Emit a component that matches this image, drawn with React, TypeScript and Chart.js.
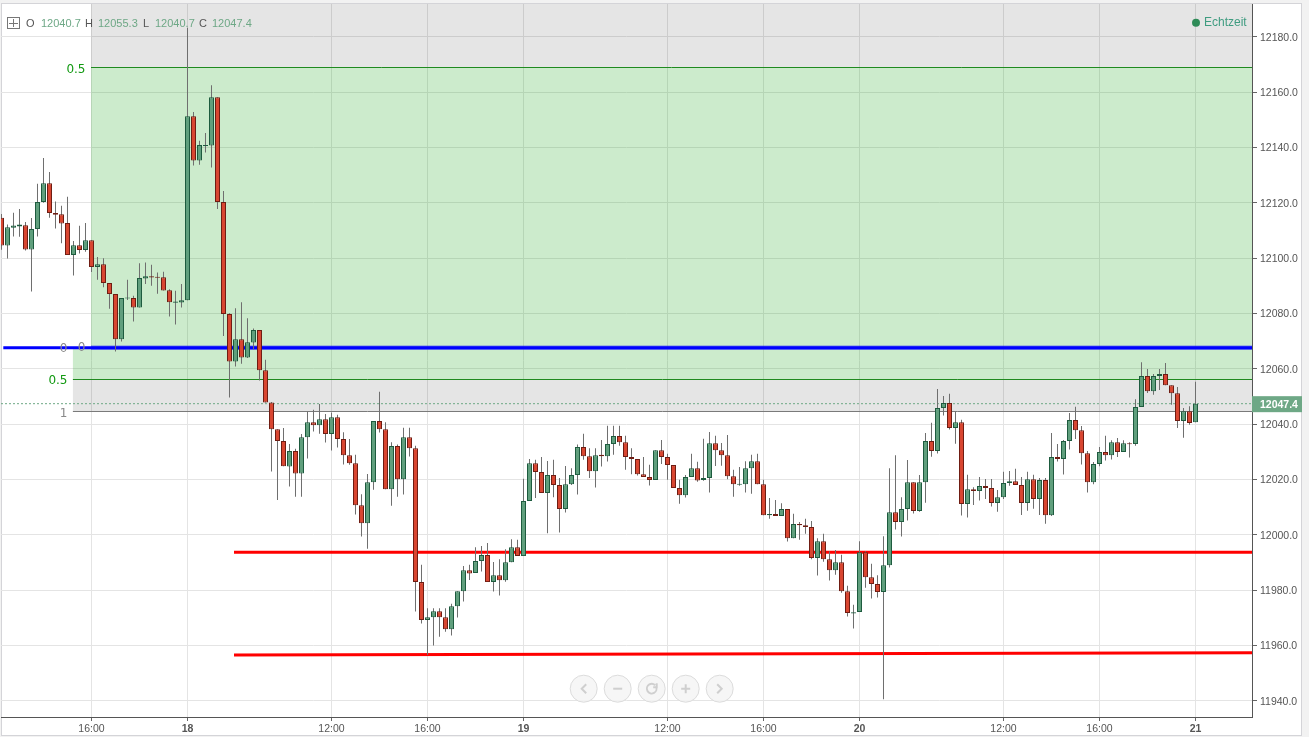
import React, { useEffect, useRef } from "react";
import { Chart, registerables } from "chart.js";

Chart.register(...registerables);

const opens = [
12114.6,12104.6,12111.0,12111.4,12111.9,12103.1,12110.5,12120.3,12127.1,12116.3,
12115.9,12112.7,12101.1,12104.7,12102.9,12106.5,12096.8,12097.8,12091.0,12087.0,
12070.7,12085.4,12085.6,12082.2,12092.6,12093.5,12093.3,12093.1,12088.4,12083.9,
12084.0,12084.8,12151.3,12135.3,12140.5,12140.7,12158.2,12120.3,12079.8,12062.6,
12070.7,12064.1,12069.5,12074.0,12059.5,12047.8,12038.2,12033.9,12024.7,12030.3,
12022.2,12035.3,12040.7,12039.6,12041.8,12036.4,12042.5,12034.6,12028.8,12025.9,
12010.7,12004.2,12019.0,12041.1,12038.2,12016.5,12032.1,12020.1,12035.3,12031.3,
11982.9,11969.2,11970.2,11972.4,11970.2,11965.9,11974.2,11979.6,11987.2,11986.2,
11990.5,11992.7,11982.9,11985.4,11983.6,11990.1,11995.5,11992.3,12012.2,12025.9,
12022.7,12015.1,12021.6,12018.0,12009.3,12018.3,12021.6,12031.7,12028.4,12023.0,
12028.9,12028.4,12032.8,12035.7,12033.5,12028.1,12027.4,12021.9,12020.9,12019.8,
12030.6,12028.1,12025.2,12016.9,12014.3,12020.9,12024.1,12019.8,12020.5,12033.1,
12030.6,12028.8,12021.2,12018.1,12018.3,12024.1,12026.6,12018.3,12007.1,12007.5,
12006.8,12009.3,11998.8,12003.9,12003.5,12002.8,11991.6,11997.7,11991.2,11987.2,
11990.1,11979.6,11971.6,11972.1,11993.7,11984.7,11982.2,11979.3,11989.0,12008.2,
12004.6,12009.3,12019.0,12008.6,12019.0,12033.9,12030.3,12045.8,12047.6,12038.6,
12040.7,12011.1,12016.5,12015.8,12017.6,12016.9,12011.5,12013.6,12018.7,12019.4,
12018.0,12011.5,12020.1,12012.9,12019.8,12007.1,12028.1,12027.4,12033.9,12041.5,
12037.8,12029.5,12019.0,12025.6,12029.9,12028.8,12033.5,12029.9,12033.1,12032.8,
12046.2,12057.4,12051.9,12057.4,12058.1,12054.1,12051.2,12041.1,12044.7,12040.7,
];

const highs = [
12116.0,12112.2,12116.4,12117.8,12113.1,12114.5,12126.9,12136.2,12131.1,12120.5,
12118.9,12122.2,12106.2,12111.7,12112.7,12106.5,12100.4,12100.0,12091.0,12087.0,
12085.6,12092.2,12086.4,12098.2,12098.4,12097.6,12094.8,12095.1,12088.8,12088.2,
12090.7,12183.3,12152.8,12142.4,12145.2,12162.5,12158.2,12124.3,12080.1,12081.9,
12084.1,12078.3,12074.6,12074.0,12063.3,12048.0,12038.2,12038.6,12032.8,12031.1,
12036.4,12044.6,12045.2,12047.3,12043.7,12044.2,12043.4,12037.1,12034.6,12028.9,
12014.7,12022.0,12041.1,12051.7,12040.7,12033.5,12032.6,12038.7,12038.7,12032.2,
11989.2,11973.5,11973.5,11973.5,11973.5,11975.1,11979.6,11988.7,11989.2,11995.5,
11996.0,11997.0,11990.2,11991.2,11994.8,11998.4,11998.2,12020.3,12027.4,12027.1,
12028.1,12026.7,12027.1,12020.5,12024.9,12024.1,12032.6,12036.5,12031.3,12031.3,
12034.3,12039.4,12039.4,12039.4,12035.8,12031.3,12027.4,12028.1,12025.3,12030.6,
12034.3,12029.3,12025.2,12019.9,12021.6,12029.3,12026.4,12034.7,12037.2,12035.8,
12033.2,12036.1,12023.5,12024.5,12026.6,12028.9,12029.3,12019.9,12013.3,12012.6,
12011.4,12009.3,12007.6,12004.6,12005.8,12005.0,11998.8,12000.4,11994.1,11994.5,
11992.8,11981.6,11974.7,11997.7,11994.1,11989.5,11985.4,11999.5,12024.1,12028.8,
12013.6,12027.0,12019.0,12021.6,12036.8,12040.5,12052.7,12050.2,12051.0,12044.5,
12041.6,12021.7,12017.2,12020.9,12020.2,12020.2,12016.2,12022.8,12023.1,12023.9,
12020.9,12022.8,12021.7,12020.5,12020.5,12036.8,12032.8,12034.3,12044.0,12046.3,
12039.3,12030.3,12026.3,12031.7,12035.8,12034.2,12035.0,12034.2,12033.5,12049.0,
12062.4,12059.9,12058.1,12059.9,12062.1,12054.1,12053.4,12045.8,12046.5,12055.3,
];

const lows = [
12103.0,12099.9,12107.8,12107.7,12102.8,12087.9,12107.8,12120.0,12114.6,12110.7,
12105.4,12101.1,12093.7,12101.7,12102.3,12095.0,12092.2,12089.5,12081.7,12066.3,
12069.9,12084.9,12077.1,12082.2,12090.7,12090.0,12087.1,12088.3,12078.9,12076.0,
12082.2,12084.8,12133.5,12133.8,12138.2,12132.8,12117.8,12071.9,12049.6,12060.8,
12061.8,12063.9,12067.1,12055.8,12047.8,12022.9,12012.6,12024.8,12017.5,12013.8,
12013.8,12027.6,12037.3,12036.5,12033.4,12030.5,12031.6,12025.4,12025.3,12007.3,
11999.4,11995.0,12016.3,12037.0,12016.5,12010.5,12013.8,12014.6,12028.3,11972.3,
11967.9,11956.6,11960.0,11963.2,11965.0,11963.6,11970.1,11975.9,11983.7,11986.2,
11986.7,11982.9,11979.5,11978.1,11983.0,11990.1,11992.3,11992.3,12012.2,12013.3,
12015.1,12000.6,12013.6,12000.8,12008.1,12018.0,12014.6,12027.1,12020.5,12017.1,
12024.7,12026.5,12028.9,12032.2,12023.5,12021.9,12021.4,12020.9,12017.8,12019.8,
12025.6,12019.9,12016.9,12011.2,12013.5,12020.9,12019.2,12019.5,12015.3,12024.9,
12025.0,12020.1,12013.8,12017.7,12015.3,12014.8,12018.3,12007.1,12005.8,12006.8,
12006.8,11997.6,11998.8,11998.2,12000.4,11991.2,11985.3,11990.3,11983.5,11985.6,
11979.1,11970.5,11966.1,11972.1,11980.9,11977.0,11977.3,11940.6,11988.2,12001.9,
11999.4,12005.2,12007.7,12008.3,12011.6,12028.2,12029.4,12043.1,12038.1,12032.9,
12007.0,12006.3,12010.8,12012.4,12012.9,12010.2,12008.3,12012.9,12017.7,12018.0,
12007.2,12008.7,12009.4,12007.2,12004.0,12006.8,12026.5,12021.8,12030.8,12034.6,
12025.4,12015.3,12018.3,12024.8,12026.9,12027.2,12028.1,12029.9,12027.9,12032.2,
12046.2,12051.3,12050.6,12052.3,12054.1,12047.0,12038.6,12035.1,12039.8,12040.7,
];

const closes = [
12104.6,12111.2,12111.8,12112.2,12103.1,12110.5,12120.3,12127.1,12116.3,12115.7,
12112.5,12101.1,12104.7,12102.9,12106.5,12096.8,12097.8,12091.0,12087.0,12070.7,
12085.6,12085.8,12082.2,12092.8,12093.5,12093.0,12092.9,12088.3,12084.1,12084.3,
12084.8,12151.3,12135.3,12140.9,12140.9,12158.2,12120.3,12079.8,12062.6,12070.7,
12064.1,12069.6,12074.0,12059.5,12047.8,12038.2,12033.9,12024.8,12030.3,12022.2,
12035.3,12040.7,12039.6,12041.8,12036.4,12042.5,12034.6,12028.8,12025.9,12010.7,
12004.2,12019.0,12041.1,12038.2,12016.5,12032.1,12020.1,12035.3,12031.3,11982.9,
11969.2,11970.2,11972.4,11970.2,11965.9,11974.2,11979.6,11987.2,11986.0,11990.5,
11992.7,11982.9,11985.4,11983.6,11990.1,11995.5,11992.3,12012.2,12025.9,12022.7,
12015.1,12021.6,12018.0,12009.3,12018.3,12021.6,12031.7,12028.4,12023.0,12028.8,
12028.4,12032.8,12035.7,12033.5,12028.1,12027.4,12021.9,12020.9,12019.8,12030.6,
12028.1,12025.2,12016.9,12014.3,12020.9,12024.1,12019.6,12020.5,12033.1,12030.6,
12028.8,12021.2,12018.3,12018.5,12024.1,12026.6,12018.3,12007.1,12007.5,12006.8,
12009.3,11998.8,12003.9,12003.5,12002.8,11991.6,11997.7,11991.2,11987.2,11990.1,
11979.6,11971.7,11972.0,11993.7,11984.7,11982.2,11979.3,11989.0,12008.2,12004.6,
12009.3,12019.0,12008.6,12019.0,12033.9,12030.3,12045.8,12047.6,12038.6,12040.7,
12011.1,12016.5,12015.8,12017.6,12016.9,12011.5,12013.6,12018.7,12019.4,12018.0,
12011.5,12020.1,12012.9,12019.8,12007.1,12028.1,12027.4,12033.9,12041.5,12037.8,
12029.5,12019.0,12025.6,12029.9,12028.8,12033.5,12029.9,12033.1,12032.7,12046.2,
12057.4,12051.9,12057.4,12058.1,12054.1,12051.2,12041.1,12044.7,12040.4,12047.4,
];

const timeTickIndex = [15, 31, 55, 71, 87, 111, 127, 143, 167, 183, 199];
const timeTickLabels = ["16:00", "18", "12:00", "16:00", "19", "12:00", "16:00", "20", "12:00", "16:00", "21"];

const fibTop = 12168.8;
const fibZeroLevel = 12067.6;
const fibMid = 12056.2;
const fibOne = 12044.6;
const lastPrice = 12047.4;
const redUpper = [11993.7, 11993.7];
const redLower = [11956.6, 11957.4];

const xMin = -0.0833;
const xMax = 208.4167;
const yMin = 11934.15;
const yMax = 12191.86;
const xBandMain = 14.92;
const xBandLow = 11.9;
const xRedStart = 38.75;
const xBlueStart = 0.3;

const headerItems = [
  ["O", 26, "#555"], ["12040.7", 41, "#6ea886"],
  ["H", 85, "#555"], ["12055.3", 98, "#6ea886"],
  ["L", 143, "#555"], ["12040.7", 155, "#6ea886"],
  ["C", 199, "#555"], ["12047.4", 212, "#6ea886"],
] as const;

const UP_FILL = "#609f7d";
const UP_EDGE = "#1e5b3f";
const DOWN_FILL = "#d84631";
const DOWN_EDGE = "#6f1d13";

const candleIndex = opens.map((_, i) => i);
const isUp = opens.map((o, i) => closes[i] >= o);

const crisp = (v: number) => Math.floor(v) + 0.5;

const overlay = {
  id: "overlay",
  beforeDraw(chart: any) {
    const c = chart.ctx;
    c.save();
    c.fillStyle = "#f2f2f2";
    c.fillRect(0, 0, chart.width, chart.height);
    c.fillStyle = "#ffffff";
    c.fillRect(1, 3, 1301, 733);
    c.strokeStyle = "#d4d4d8";
    c.strokeRect(1.5, 3.5, 1300, 732);
    c.restore();
  },
  beforeDatasetsDraw(chart: any) {
    const c = chart.ctx;
    const x = chart.scales.x;
    const y = chart.scales.y;
    const left = x.getPixelForValue(xBandMain);
    const lowLeft = x.getPixelForValue(xBandLow);
    const right = chart.chartArea.right;
    const top = chart.chartArea.top;
    const yTop = y.getPixelForValue(fibTop);
    const yZero = y.getPixelForValue(fibZeroLevel);
    const yMid = y.getPixelForValue(fibMid);
    const yOne = y.getPixelForValue(fibOne);
    c.save();
    c.fillStyle = "rgba(0,0,0,0.1)";
    c.fillRect(left, top, right - left, yTop - top);
    c.fillRect(lowLeft, yMid, right - lowLeft, yOne - yMid);
    c.fillStyle = "rgba(0,153,0,0.2)";
    c.fillRect(left, yTop, right - left, yZero - yTop);
    c.fillRect(lowLeft, yZero, right - lowLeft, yMid - yZero);
    c.lineWidth = 1;
    c.strokeStyle = "#1f8a1f";
    c.beginPath();
    c.moveTo(left, crisp(yTop));
    c.lineTo(right, crisp(yTop));
    c.moveTo(lowLeft, crisp(yMid));
    c.lineTo(right, crisp(yMid));
    c.stroke();
    c.strokeStyle = "#7a7a7a";
    c.beginPath();
    c.moveTo(lowLeft, crisp(yOne));
    c.lineTo(right, crisp(yOne));
    c.stroke();
    c.restore();
  },
  afterDraw(chart: any) {
    const c = chart.ctx;
    const y = chart.scales.y;
    c.save();
    c.textBaseline = "middle";
    c.font = "12px 'DejaVu Sans'";
    c.textAlign = "right";
    c.fillStyle = "#119911";
    c.fillText("0.5", 85.5, y.getPixelForValue(fibTop) + 1.8);
    c.fillText("0.5", 67.5, y.getPixelForValue(fibMid) + 2);
    c.fillStyle = "#8a8a8a";
    c.fillText("0", 67.5, y.getPixelForValue(fibZeroLevel) + 1.5);
    c.fillText("0", 85.5, y.getPixelForValue(fibZeroLevel) + 0.5);
    c.fillText("1", 67.5, y.getPixelForValue(fibOne) + 2);

    c.textAlign = "left";
    c.font = "11px 'Liberation Sans'";
    headerItems.forEach(([t, px, col]) => {
      c.fillStyle = col;
      c.fillText(t, px, 24);
    });
    c.strokeStyle = "#777";
    c.lineWidth = 1;
    c.strokeRect(7.5, 17.5, 12, 11);
    c.beginPath();
    c.moveTo(13.5, 19);
    c.lineTo(13.5, 27);
    c.moveTo(9, 23.5);
    c.lineTo(18, 23.5);
    c.stroke();

    c.fillStyle = "#2e8b57";
    c.beginPath();
    c.arc(1196, 22.7, 4, 0, Math.PI * 2);
    c.fill();
    c.fillStyle = "#3f9c80";
    c.font = "12px 'Liberation Sans'";
    c.fillText("Echtzeit", 1204, 22.5);

    const tagY = y.getPixelForValue(lastPrice);
    c.fillStyle = "#6ea886";
    c.fillRect(1252, tagY - 7.5, 50, 16);
    c.fillStyle = "#ffffff";
    c.font = "bold 10.5px 'Liberation Sans'";
    c.fillText(lastPrice.toFixed(1), 1260, tagY + 1);

    const centers = [583.7, 617.7, 651.7, 685.7, 719.7];
    centers.forEach((cx, i) => {
      const cy = 688.7;
      c.beginPath();
      c.arc(cx, cy, 13.5, 0, Math.PI * 2);
      c.fillStyle = "rgba(245,245,245,0.85)";
      c.fill();
      c.strokeStyle = "#dcdcdc";
      c.lineWidth = 1;
      c.stroke();
      c.strokeStyle = "#cfcfcf";
      c.lineWidth = 2;
      c.beginPath();
      if (i === 0) {
        c.moveTo(cx + 2.5, cy - 4.5);
        c.lineTo(cx - 2, cy);
        c.lineTo(cx + 2.5, cy + 4.5);
      } else if (i === 4) {
        c.moveTo(cx - 2.5, cy - 4.5);
        c.lineTo(cx + 2, cy);
        c.lineTo(cx - 2.5, cy + 4.5);
      } else if (i === 1) {
        c.moveTo(cx - 4.5, cy);
        c.lineTo(cx + 4.5, cy);
      } else if (i === 3) {
        c.moveTo(cx - 4.5, cy);
        c.lineTo(cx + 4.5, cy);
        c.moveTo(cx, cy - 4.5);
        c.lineTo(cx, cy + 4.5);
      } else {
        c.arc(cx, cy, 4.8, -0.5, Math.PI * 1.75);
        c.moveTo(cx + 5, cy - 5.5);
        c.lineTo(cx + 5, cy - 1.5);
        c.lineTo(cx + 1.5, cy - 1.5);
      }
      c.stroke();
    });
    c.restore();
  },
};

export default function App() {
  const ref = useRef<HTMLCanvasElement>(null);

  useEffect(() => {
    const hLine = (x0: number, y0: number, x1: number, y1: number, color: string, width: number, order: number, dash: number[] = []) => ({
      type: "line" as const,
      data: [{ x: x0, y: y0 }, { x: x1, y: y1 }],
      borderColor: color,
      borderWidth: width,
      borderDash: dash,
      pointRadius: 0,
      order,
    });

    const chart = new Chart(ref.current as HTMLCanvasElement, {
      type: "bar",
      data: {
        datasets: [
          {
            type: "bar",
            data: candleIndex.map((i) => ({ x: i, y: [opens[i], closes[i]] })),
            backgroundColor: candleIndex.map((i) => (isUp[i] ? UP_FILL : DOWN_FILL)),
            borderColor: candleIndex.map((i) => (isUp[i] ? UP_EDGE : DOWN_EDGE)),
            borderWidth: 1,
            borderSkipped: false,
            inflateAmount: 0,
            grouped: false,
            barPercentage: 1,
            categoryPercentage: 1,
            maxBarThickness: 5,
            order: 0,
          },
          {
            type: "bar",
            data: candleIndex.map((i) => ({ x: i, y: [lows[i], highs[i]] })),
            backgroundColor: "#6f6f6f",
            borderWidth: 0,
            inflateAmount: 0,
            grouped: false,
            barPercentage: 1,
            categoryPercentage: 1,
            maxBarThickness: 1,
            order: 1,
          },
          hLine(xMin, lastPrice, xMax, lastPrice, "#6ea886", 1, 2, [2, 2]),
          hLine(xRedStart, redUpper[0], xMax, redUpper[1], "#ff0000", 3, 3),
          hLine(xRedStart, redLower[0], xMax, redLower[1], "#ff0000", 3, 4),
          hLine(xBlueStart, fibZeroLevel, xMax, fibZeroLevel, "#0000ff", 3, 5),
          hLine(xBandMain, fibZeroLevel, xMax, fibZeroLevel, "rgba(40,40,255,0.55)", 4.5, 6),
        ] as any,
      },
      options: {
        animation: false,
        responsive: false,
        devicePixelRatio: 1,
        layout: { padding: { left: 1, right: 7, top: 4, bottom: 1 } },
        plugins: { legend: { display: false }, tooltip: { enabled: false } },
        events: [],
        scales: {
          x: {
            type: "linear",
            min: xMin,
            max: xMax,
            offset: false,
            grid: { offset: false, color: "#e4e4e4", lineWidth: 1, tickLength: 4, tickColor: "#666" },
            border: { color: "#555", display: true },
            afterBuildTicks: (axis: any) => {
              axis.ticks = timeTickIndex.map((value) => ({ value }));
            },
            afterFit: (s: any) => {
              s.height = 19;
              s.paddingLeft = 0;
              s.paddingRight = 0;
            },
            ticks: {
              autoSkip: false,
              maxRotation: 0,
              padding: 2,
              color: "#555",
              font: (ctx: any) => ({
                family: "'Liberation Sans'",
                size: 10.5,
                weight: timeTickLabels[ctx.index] && timeTickLabels[ctx.index].length < 3 ? "bold" : "normal",
              }),
              callback: (_v: any, index: number) => timeTickLabels[index],
            },
          },
          y: {
            type: "linear",
            position: "right",
            min: yMin,
            max: yMax,
            grid: { color: "#e4e4e4", lineWidth: 1, tickLength: 5, tickColor: "#666" },
            border: { color: "#555", display: true },
            afterFit: (s: any) => {
              s.width = 50;
              s.paddingTop = 0;
              s.paddingBottom = 0;
            },
            ticks: {
              stepSize: 20,
              includeBounds: false,
              padding: 3,
              labelOffset: 1,
              color: "#555",
              font: { family: "'Liberation Sans'", size: 10.5 },
              callback: (v: any) => Number(v).toFixed(1),
            },
          },
        },
      } as any,
      plugins: [overlay],
    } as any);
    return () => chart.destroy();
  }, []);

  return (
    <div style={{ position: "fixed", left: 0, top: 0, width: 1309, height: 737 }}>
      <canvas ref={ref} width={1309} height={737} style={{ display: "block" }} />
    </div>
  );
}
